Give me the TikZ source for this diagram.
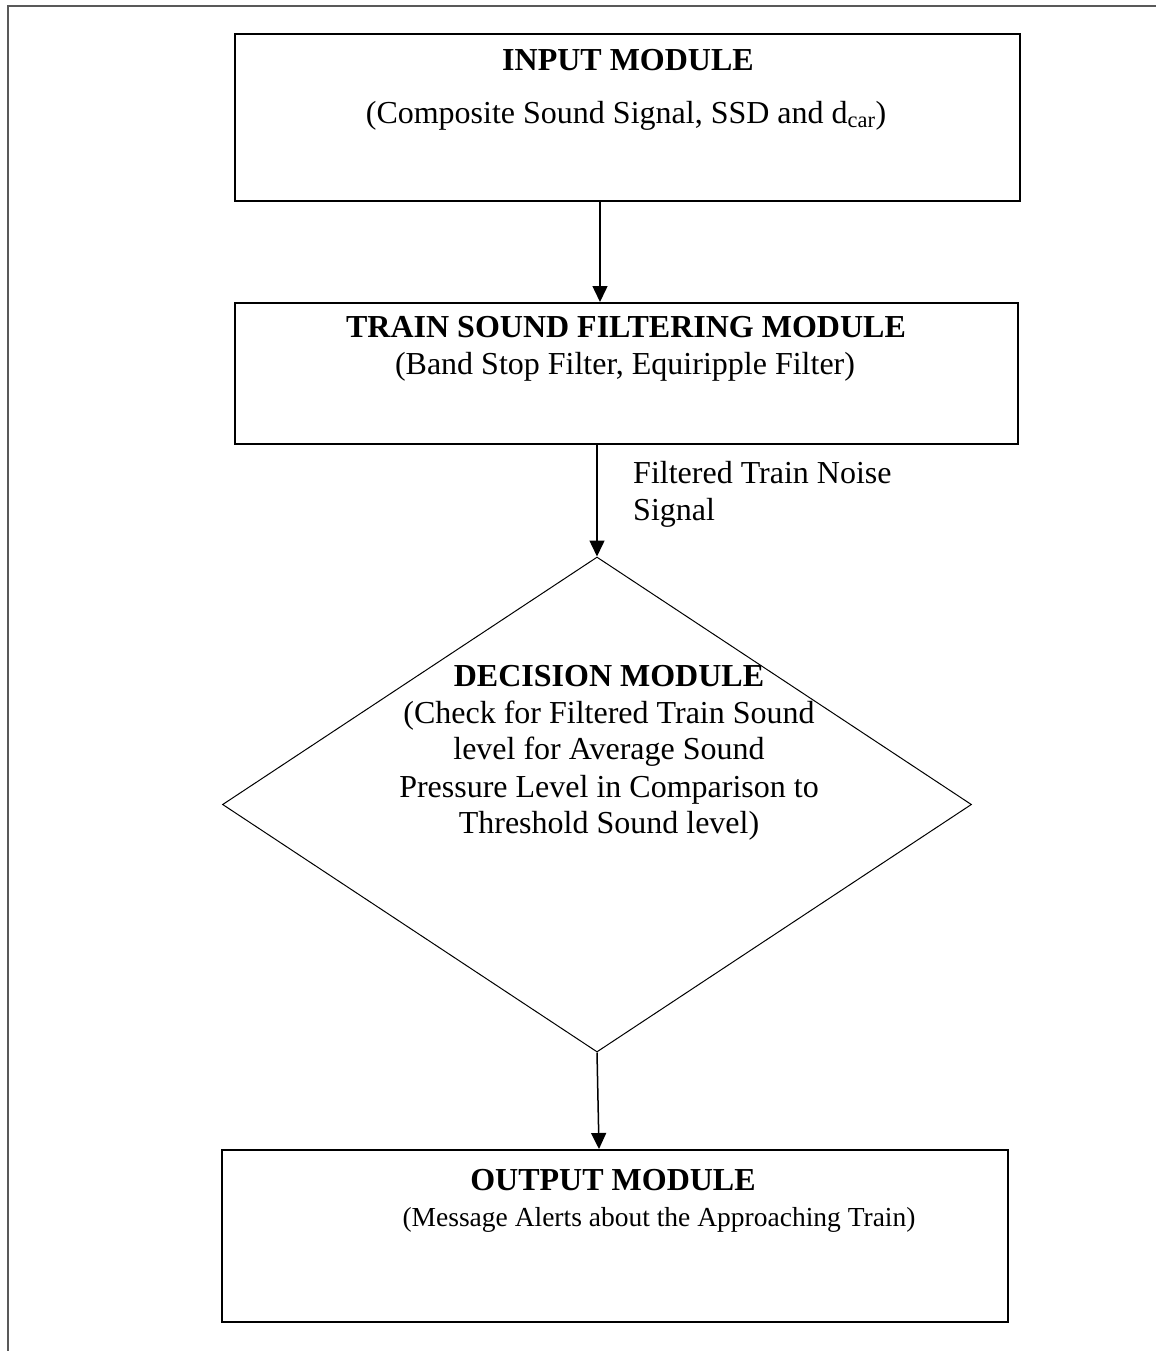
\documentclass[tikz,border=0pt]{standalone}
\usepackage{fontspec}
\setmainfont{Liberation Serif}
\usetikzlibrary{shapes.geometric,arrows.meta}
\tikzset{
  modbox/.style={draw, line width=2pt, inner sep=0pt, minimum width=#1},
  decbox/.style={draw, line width=1pt, shape=diamond, inner sep=0pt},
  txt/.style={inner sep=0pt, anchor=base, font=\fontsize{32}{37}\selectfont},
  txtl/.style={inner sep=0pt, anchor=base west, font=\fontsize{32}{37}\selectfont},
  arr/.style={line width=1.5pt, -{Triangle[length=16pt,width=15pt]}},
  frame/.style={draw=black!65, line width=2pt}
}
\begin{document}
\begin{tikzpicture}[x=1pt,y=-1pt]
\useasboundingbox (0,0) rectangle (1156,1351);
\draw[frame] (8,1351) -- (8,6) -- (1156,6);

\node[modbox=785pt, minimum height=167pt] (in) at (627.5,117.5) {};
\node[modbox=783pt, minimum height=141pt] (tr) at (626.5,373.5) {};
\node[decbox, minimum width=749pt, minimum height=495pt] (dm) at (597,804.5) {};
\node[modbox=786pt, minimum height=172pt] (out) at (615,1236) {};

\coordinate (a1) at (600,0);
\coordinate (a3) at (599,0);
\draw[arr] (in.south -| a1) -- (tr.north -| a1);
\draw[arr] (tr.south -| dm.north) -- (dm.north);
\draw[arr] (dm.south) -- (out.north -| a3);

\node[txt] (t1) at (628,71) {\textbf{INPUT MODULE}};
\node[txt] (t2) at (626,124) {(Composite Sound Signal, SSD and d\textsubscript{car})};
\node[txt] (t3) at (626,337) {\textbf{TRAIN SOUND FILTERING MODULE}};
\node[txt] (t4) at (625,374) {(Band Stop Filter, Equiripple Filter)};
\node[txtl] (l1) at (633,483) {Filtered Train Noise};
\node[txtl] (l2) at (633,520) {Signal};
\node[txt] (d1) at (609,686) {\textbf{DECISION MODULE}};
\node[txt] (d2) at (609,723) {(Check for Filtered Train Sound};
\node[txt] (d3) at (609,759) {level for Average Sound};
\node[txt] (d4) at (609,797) {Pressure Level in Comparison to};
\node[txt] (d5) at (609,833) {Threshold Sound level)};
\node[txt] (o1) at (613,1190) {\textbf{OUTPUT MODULE}};
\node[txt, font=\fontsize{27.5}{33}\selectfont] (o2) at (659,1226) {(Message Alerts about the Approaching Train)};
\end{tikzpicture}
\end{document}
